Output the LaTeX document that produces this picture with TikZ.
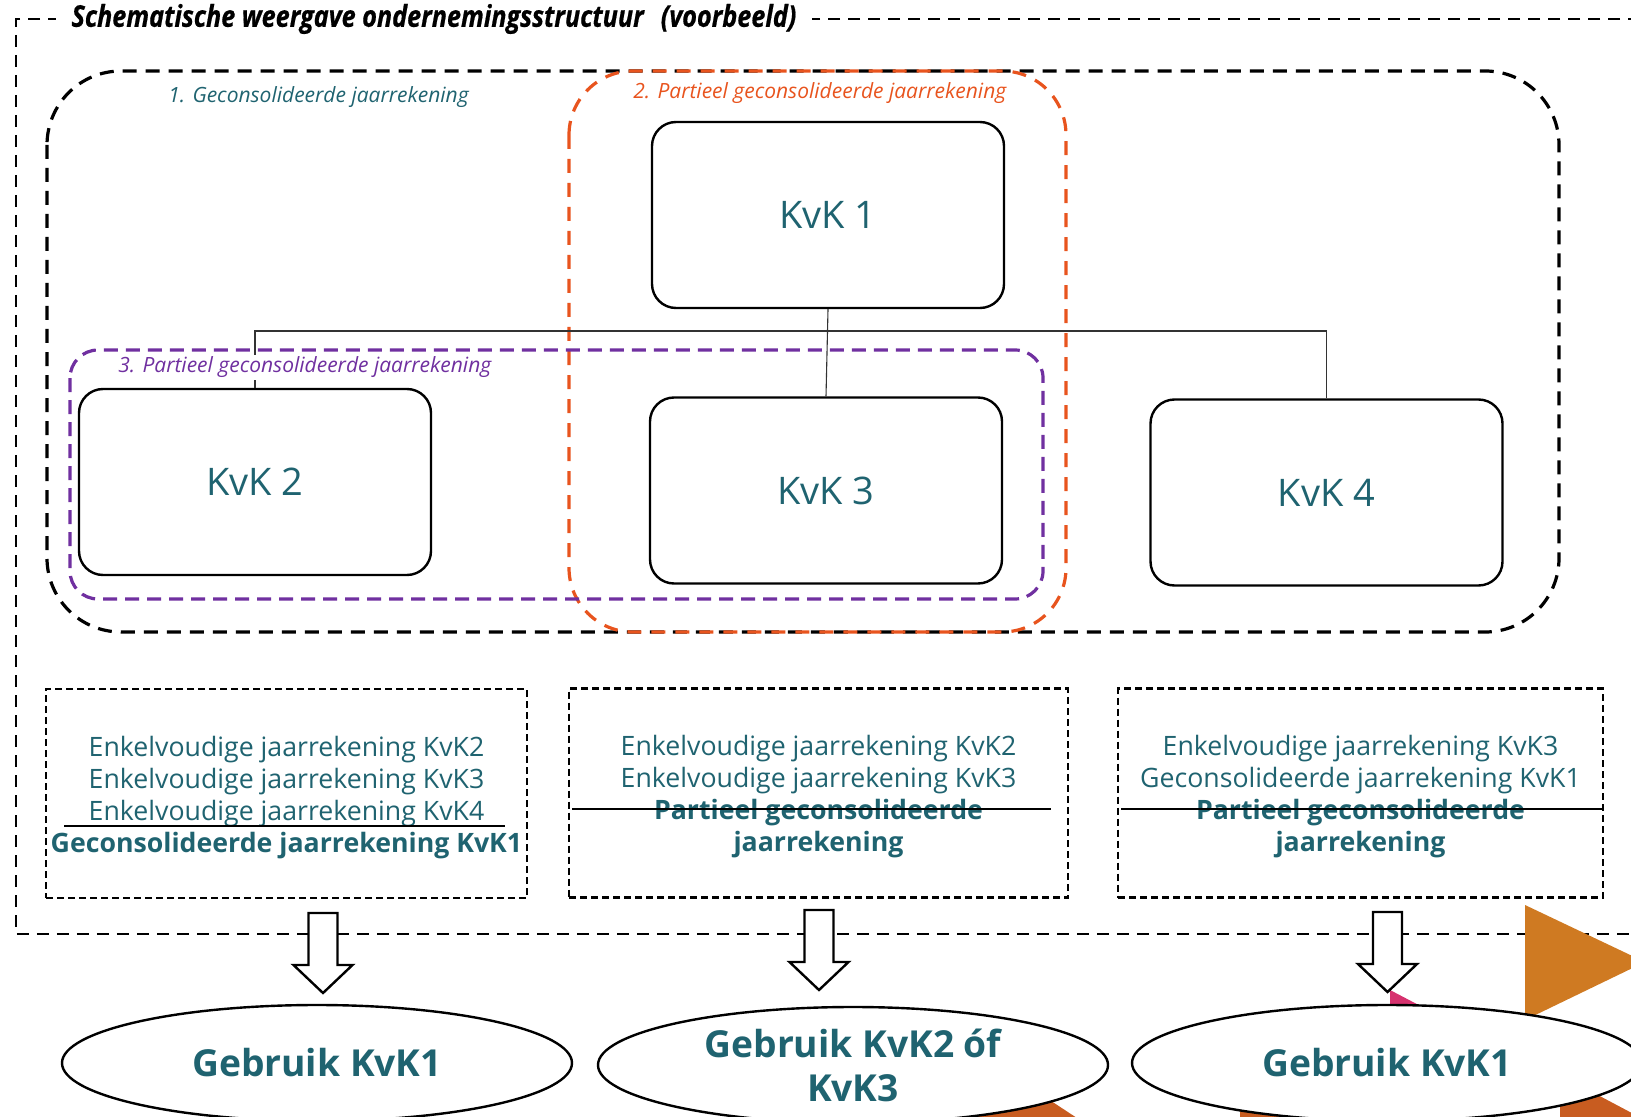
\documentclass[tikz,border=0pt]{standalone}
\usepackage{fontspec}
\setmainfont{Open Sans}
\newfontfamily\titlefont[FakeStretch=0.84,FakeBold=0.6]{Open Sans}
\usetikzlibrary{shapes.geometric}
\definecolor{kvteal}{RGB}{31,99,112}
\definecolor{kvorange}{RGB}{232,84,30}
\definecolor{kvpurple}{RGB}{112,48,160}
\definecolor{decoA}{RGB}{207,122,34}
\definecolor{decoB}{RGB}{200,92,32}
\definecolor{decoP}{RGB}{214,50,110}
\begin{document}
\begin{tikzpicture}[x=0.5pt,y=-0.5pt,
  frameline/.style={line width=1.2pt,dash pattern=on 6pt off 4pt},
  grpblack/.style={line width=1.6pt,dash pattern=on 7pt off 4.5pt,rounded corners=37pt},
  grporange/.style={kvorange,line width=1.6pt,dash pattern=on 7pt off 5pt,rounded corners=32pt},
  grppurple/.style={kvpurple,line width=1.6pt,dash pattern=on 7pt off 4pt,rounded corners=14pt},
  kvkbox/.style={draw,line width=1.2pt,fill=white,rounded corners=12pt,minimum width=176pt,minimum height=93pt,inner sep=0pt,text=kvteal,font=\fontsize{19}{23}\selectfont},
  busline/.style={line width=0.55pt,black!80},
  infobox/.style={draw,line width=1.3pt,dash pattern=on 3.5pt off 2pt,minimum height=104.5pt,inner sep=0pt,text=kvteal,align=center,font=\fontsize{13.35}{16}\selectfont},
  grplabel/.style={anchor=west,inner sep=1pt,font=\fontsize{10.5}{12}\selectfont\itshape},
  useell/.style={ellipse,draw,line width=1.2pt,fill=white,minimum width=255pt,minimum height=58pt,inner sep=0pt,text=kvteal,align=center,font=\fontsize{18.6}{22}\selectfont\bfseries},
  blockarrow/.pic={\draw[line width=1.2pt,fill=white] (-14.5,0) -- (14.5,0) -- (14.5,52) -- (29.5,52) -- (0,80) -- (-29.5,52) -- (-14.5,52) -- cycle;}
]
\useasboundingbox (0,0) rectangle (1631,1117);

% outer frame
\draw[frameline] (1660,19) -- (16,19) -- (16,934) -- (1660,934);
\node[fill=white,inner xsep=8pt,inner ysep=2pt,font=\titlefont\bfseries\itshape\fontsize{15}{17}\selectfont] (title) at (434,19) {Schematische weergave ondernemingsstructuur\hspace{0.35em} (voorbeeld)};

% group frames
\draw[grpblack] (47,71) rectangle (1559,632);
\draw[grporange] (569,71) rectangle (1066,632);
\draw[grppurple] (70,350) rectangle (1043,599);

\node[grplabel,text=kvteal] (l1) at (166,97) {1. Geconsolideerde jaarrekening};
\node[grplabel,text=kvorange] (l2) at (631,93) {2. Partieel geconsolideerde jaarrekening};

% company boxes
\node[kvkbox] (k1) at (828,215) {KvK 1};
\node[kvkbox] (k2) at (255,482) {KvK 2};
\node[kvkbox] (k3) at (826,490.5) {KvK 3};
\node[kvkbox] (k4) at (1326.5,492.5) {KvK 4};

\coordinate (bus) at (828,331);
\draw[busline] (k1.south) -- (k3.north);
\draw[busline] (k2.north) |- (bus) -| (k4.north);

\node[grplabel,text=kvpurple,fill=white] (l3) at (116,367) {3. Partieel geconsolideerde jaarrekening};

% info boxes
\node[infobox,minimum width=240.5pt,text depth=0pt] (ba) at (286.5,793.5) {};
\node[text=kvteal,align=center,inner sep=0pt,font=\fontsize{13.35}{16}\selectfont] (ta) at (286.5,797.5) {Enkelvoudige jaarrekening KvK2\\Enkelvoudige jaarrekening KvK3\\Enkelvoudige jaarrekening KvK4\\\textbf{Geconsolideerde jaarrekening KvK1}};
\draw[line width=0.6pt] (64,826) -- (505,826);
\node[infobox,minimum width=249.5pt] (bb) at (818.5,793) {};
\node[text=kvteal,align=center,inner sep=0pt,font=\fontsize{13.35}{16}\selectfont] (tb) at (818.5,797) {Enkelvoudige jaarrekening KvK2\\Enkelvoudige jaarrekening KvK3\\\textbf{Partieel geconsolideerde}\\\textbf{jaarrekening}};
\draw[line width=0.6pt] (572,809) -- (1051,809);
\node[infobox,minimum width=242.5pt] (bc) at (1360.5,793) {};
\node[text=kvteal,align=center,inner sep=0pt,font=\fontsize{13.35}{16}\selectfont] (tc) at (1360.5,797) {Enkelvoudige jaarrekening KvK3\\Geconsolideerde jaarrekening KvK1\\\textbf{Partieel geconsolideerde}\\\textbf{jaarrekening}};
\draw[line width=0.6pt] (1121,809) -- (1602,809);

% decorative shapes
\fill[decoA] (1525,905) -- (1645,962) -- (1525,1020) -- cycle;
\fill[decoB] (1560,1075) -- (1645,1120) -- (1560,1120) -- cycle;
\fill[decoB] (960,1090) -- (1045,1097) -- (1080,1120) -- (960,1120) -- cycle;
\fill[decoB] (1240,1100) -- (1300,1104) -- (1318,1120) -- (1240,1120) -- cycle;
\fill[decoP] (1390,990) -- (1432,1012) -- (1390,1012) -- cycle;

% arrows
\pic at (323,913) {blockarrow};
\pic at (819,910) {blockarrow};
\pic at (1387.5,912) {blockarrow};

% outcome ellipses
\node[useell] (e1) at (317,1063) {Gebruik KvK1};
\node[useell] (e2) at (853,1065) {Gebruik KvK2 óf\\KvK3};
\node[useell] (e3) at (1387,1063) {Gebruik KvK1};
\end{tikzpicture}
\end{document}
